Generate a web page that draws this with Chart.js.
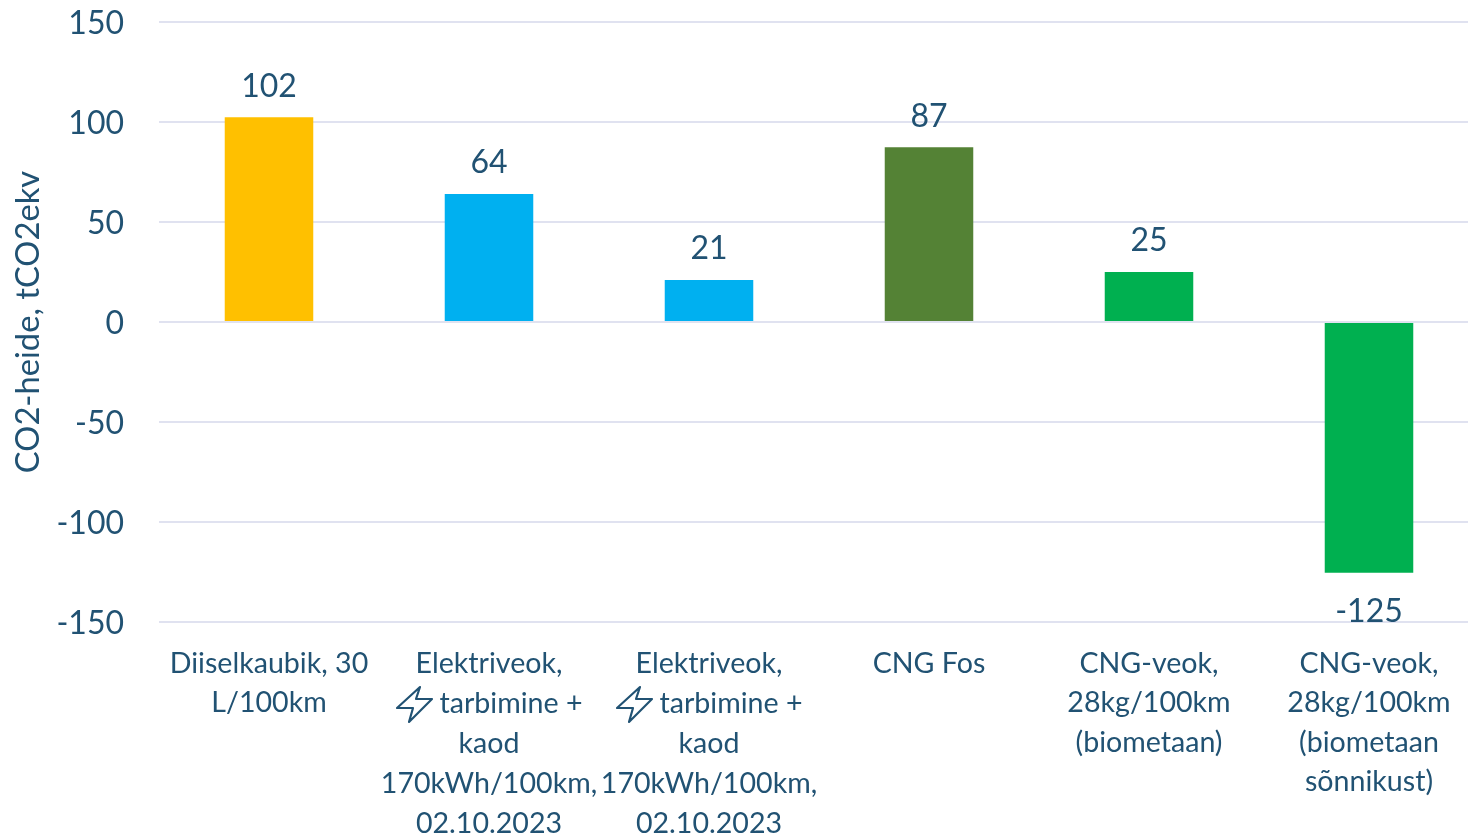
<!DOCTYPE html>
<html><head><meta charset="utf-8">
<style>html,body{margin:0;padding:0;background:#fff;overflow:hidden;width:1468px;height:835px}canvas{display:block}</style>
<script src="https://cdn.jsdelivr.net/npm/chart.js@4"></script></head>
<body><canvas id="c" width="1479" height="835"></canvas>
<script>
const categories = [
  ["Diiselkaubik, 30","L/100km"],
  ["Elektriveok,","      tarbimine +","kaod","170kWh/100km,","02.10.2023"],
  ["Elektriveok,","      tarbimine +","kaod","170kWh/100km,","02.10.2023"],
  ["CNG Fos"],
  ["CNG-veok,","28kg/100km","(biometaan)"],
  ["CNG-veok,","28kg/100km","(biometaan","sõnnikust)"]
];
const values = [102.4, 64, 21, 87.4, 25, -125.4];
const barColors = ["#FFC000","#00B0F0","#00B0F0","#548235","#00B050","#00B050"];
const iconCategories = [1, 2];
const axisTitle = "CO2-heide, tCO2ekv";
const textColor = "#215273", gridColor = "#E0E2F0", fontFamily = "Lato, Carlito, sans-serif";

const overlay = {
  id: "overlay",
  afterDatasetsDraw(chart) {
    const {ctx, scales:{x,y}, chartArea:a} = chart;
    ctx.save();
    ctx.strokeStyle = gridColor; ctx.lineWidth = 2;
    ctx.beginPath(); ctx.moveTo(a.left, y.getPixelForValue(0)); ctx.lineTo(a.right, y.getPixelForValue(0)); ctx.stroke();
    ctx.fillStyle = textColor; ctx.font = "32px " + fontFamily;
    ctx.textAlign = "center"; ctx.textBaseline = "middle";
    chart.getDatasetMeta(0).data.forEach((b, i) => {
      const v = values[i];
      ctx.fillText(String(Math.round(v)), b.x, v >= 0 ? b.y - 31 : b.y + 39);
    });
    ctx.strokeStyle = textColor; ctx.lineWidth = 2.2; ctx.lineJoin = "round";
    iconCategories.forEach(i => {
      const cx = x.getPixelForTick(i) - 92, cy = a.bottom + 65;
      const p = [[23,0],[0,21],[16,21],[12,35],[35,12],[19,12]];
      ctx.beginPath();
      p.forEach((q, k) => k ? ctx.lineTo(cx+q[0], cy+q[1]) : ctx.moveTo(cx+q[0], cy+q[1]));
      ctx.closePath(); ctx.stroke();
    });
    ctx.restore();
  }
};

new Chart(document.getElementById("c"), {
  type: "bar",
  data: { labels: categories, datasets: [{ data: values, backgroundColor: barColors, barPercentage: 0.8, categoryPercentage: 0.503, borderWidth: 0 }] },
  plugins: [overlay],
  options: {
    responsive: false, animation: false,
    layout: { padding: { top: 22, left: 0, right: 0, bottom: 0 } },
    plugins: { legend: { display: false }, tooltip: { enabled: false } },
    scales: {
      x: {
        grid: { display: false }, border: { display: false },
        afterFit(s) { s.height = 213; s.paddingTop = 0; s.paddingBottom = 0; },
        ticks: { autoSkip: false, maxRotation: 0, minRotation: 0, padding: 14, color: textColor,
                 font: c => ({ family: fontFamily, size: 28.6, lineHeight: iconCategories.includes(c.index) ? 1.4 : 1.38 }) }
      },
      y: {
        min: -150, max: 150,
        afterFit(s) {
          s.width = 159; s.paddingTop = 0; s.paddingBottom = 0;
          if (!s._nudged) {
            s._nudged = true;
            const orig = s.getLabelItems;
            s.getLabelItems = function (a) {
              return orig.call(this, a).map(it => ({ ...it, textOffset: it.textOffset + 2 }));
            };
          }
        },
        grid: { color: gridColor, lineWidth: 2, drawTicks: false }, border: { display: false },
        ticks: { stepSize: 50, padding: 35, color: textColor, font: { family: fontFamily, size: 32 } },
        title: { display: true, text: axisTitle, color: textColor, padding: { top: 9, bottom: 0 },
                 font: { family: fontFamily, size: 32.7, weight: "normal" } }
      }
    }
  }
});
</script></body></html>
